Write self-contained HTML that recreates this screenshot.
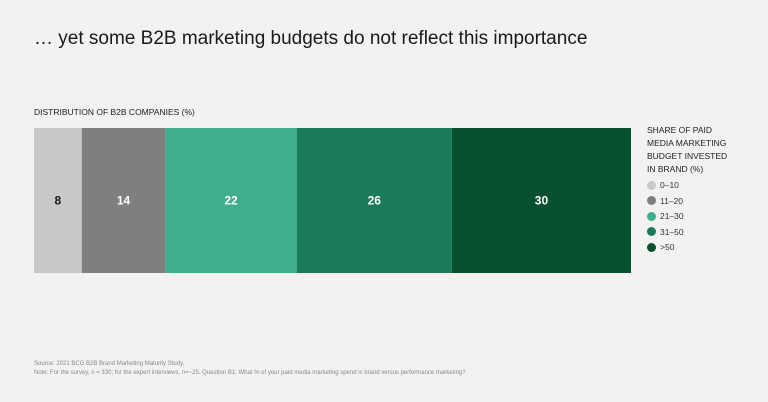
<!DOCTYPE html>
<html><head><meta charset="utf-8"><style>
body{margin:0;width:768px;height:402px;background:#f3f2f0;font-family:"Liberation Sans",sans-serif;position:relative;overflow:hidden}
.t{position:absolute;left:34px;top:28px;font-size:19px;color:#1a1a1a}
.sub{position:absolute;left:34px;top:107px;font-size:8.5px;color:#222}
.lt{position:absolute;left:647px;top:124px;font-size:8.5px;line-height:13px;color:#222}
.le{position:absolute;left:647px;font-size:8.5px;color:#333;display:flex;align-items:center}
.le i{display:inline-block;width:9px;height:9px;border-radius:50%;margin-right:4px}
.src{position:absolute;left:34px;font-size:6px;color:#888}
</style></head><body>
<div class="t">… yet some B2B marketing budgets do not reflect this importance</div>
<div class="sub">DISTRIBUTION OF B2B COMPANIES (%)</div>
<svg id="c" width="768" height="402" style="position:absolute;left:0;top:0"></svg>
<div class="lt">SHARE OF PAID<br>MEDIA MARKETING<br>BUDGET INVESTED<br>IN BRAND (%)</div>
<div id="leg"></div>
<div class="src" style="top:361px">Source: 2021 BCG B2B Brand Marketing Maturity Study.</div>
<div class="src" style="top:370px">Note: For the survey, n = 330; for the expert interviews, n=~25. Question B1: What % of your paid media marketing spend is brand versus performance marketing?</div>
<script>
const categories=["0–10","11–20","21–30","31–50",">50"];
const values=[8,14,22,26,30];
const colors=["#c8c8c8","#7f7f7f","#3eae8e","#1b7a58","#065230"];
const textColors=["#1a1a1a","#fff","#fff","#fff","#fff"];
const svg=document.getElementById('c');
const x0=34,x1=631,y0=128,h=145;
const total=values.reduce((a,b)=>a+b,0);
const xs=v=>(v/total)*(x1-x0);
let cx=x0;
values.forEach((v,i)=>{
 const w=xs(v);
 const r=document.createElementNS('http://www.w3.org/2000/svg','rect');
 r.setAttribute('x',cx);r.setAttribute('y',y0);r.setAttribute('width',w);r.setAttribute('height',h);r.setAttribute('fill',colors[i]);
 
 
 svg.appendChild(r);
 const t=document.createElementNS('http://www.w3.org/2000/svg','text');
 t.setAttribute('x',cx+w/2);t.setAttribute('y',y0+h/2+4);t.setAttribute('text-anchor','middle');
 t.setAttribute('font-size','12');t.setAttribute('font-weight','bold');t.setAttribute('fill',textColors[i]);
 t.setAttribute('font-family','Liberation Sans, sans-serif');
 t.textContent=v;
 
 
 svg.appendChild(t);
 cx+=w;
});
const leg=document.getElementById('leg');
categories.forEach((c,i)=>{
 const d=document.createElement('div');
 d.className='le';d.style.top=(180+i*15.5)+'px';
 d.innerHTML='<i style="background:'+colors[i]+'"></i>'+c;
 
 
 leg.appendChild(d);
});
</script>
</body></html>
